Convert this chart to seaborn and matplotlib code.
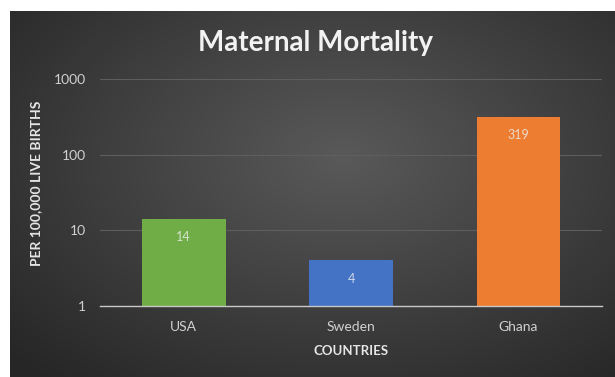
import numpy as np
import pandas as pd
import matplotlib
matplotlib.use("Agg")
import matplotlib.pyplot as plt
import seaborn as sns

countries = ["USA", "Sweden", "Ghana"]
deaths_per_100k = [14, 4, 319]
bar_colors = ["#70AD47", "#4472C4", "#ED7D31"]

df = pd.DataFrame({"country": countries, "rate": deaths_per_100k})

sns.set_style("dark")
plt.rcParams["font.family"] = ["Lato", "DejaVu Sans"]

fig = plt.figure(figsize=(6.15, 3.77), dpi=100)
fig.patch.set_facecolor("white")

# dark radial-gradient panel behind the chart
bg = fig.add_axes([10 / 615, 0, 1 - 10 / 615, 1 - 11 / 377])
yy, xx = np.mgrid[0:1:300j, 0:1:500j]
r = np.sqrt(((xx - 0.55) / 0.75) ** 2 + ((yy - 0.4) / 0.8) ** 2)
shade = np.clip(0.35 - 0.2 * r, 0.15, 0.35)
bg.imshow(np.dstack([shade, shade, shade]), aspect="auto", extent=[0, 1, 0, 1],
          interpolation="bilinear")
bg.set_axis_off()

ax = fig.add_axes([100 / 615, 1 - 306 / 377, 502 / 615, 227 / 377])
ax.set_facecolor("none")
sns.barplot(data=df, x="country", y="rate", hue="country", palette=bar_colors,
            width=0.5, legend=False, ax=ax, saturation=1, linewidth=0)
ax.set_yscale("log")
ax.set_ylim(1, 1000)
ax.set_xlim(-0.5, 2.5)
ax.set_yticks([1, 10, 100, 1000])
ax.set_yticklabels(["1", "10", "100", "1000"])
ax.minorticks_off()
ax.grid(axis="y", color="#5e5e5e", linewidth=0.8)
ax.grid(axis="x", visible=False)
ax.tick_params(colors="#d0d0d0", labelsize=10, length=0)
ax.tick_params(axis="y", pad=10)
ax.tick_params(axis="x", pad=11)
for s in ["top", "right", "left"]:
    ax.spines[s].set_visible(False)
ax.spines["bottom"].set_color("#c8c8c8")
ax.spines["bottom"].set_linewidth(1.0)

for p, v in zip(ax.patches, deaths_per_100k):
    top = p.get_height()
    ax.annotate(str(v), (p.get_x() + p.get_width() / 2, top),
                xytext=(0, -16), textcoords="offset points", ha="center",
                color="#f0f0f0", fontsize=9, alpha=0.8)

ax.set_xlabel("COUNTRIES", color="#e6e6e6", fontsize=9.5, fontweight="bold")
ax.set_ylabel("PER 100,000 LIVE BIRTHS", color="#e6e6e6", fontsize=10,
              fontweight="bold")
ax.xaxis.set_label_coords(0.5, -0.172)
ax.yaxis.set_label_coords(-0.116, 0.54)
fig.text(316 / 615, 1 - 43 / 377, "Maternal Mortality", ha="center", va="center",
         color="#f2f2f2", fontsize=20, fontweight="bold")

fig.savefig("out.png", dpi=100)
